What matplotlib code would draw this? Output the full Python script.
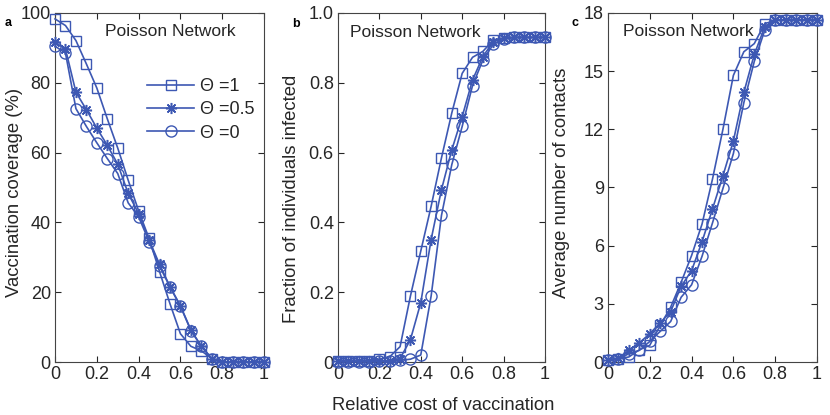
import numpy as np
import matplotlib
matplotlib.use("Agg")
import matplotlib.pyplot as plt
from matplotlib.ticker import FixedLocator, FixedFormatter

plt.rcParams['font.family'] = ['Liberation Sans', 'DejaVu Sans']

# relative cost of vaccination, 0 .. 1 in steps of 0.05
cost = [0.0, 0.05, 0.1, 0.15, 0.2, 0.25, 0.3, 0.35, 0.4, 0.45, 0.5,
        0.55, 0.6, 0.65, 0.7, 0.75, 0.8, 0.85, 0.9, 0.95, 1.0]

# panel a: vaccination coverage (%)
cov_t1 = [98.3, 96.4, 92.1, 85.4, 78.5, 69.7, 61.3, 52.1, 43.3, 35.4, 25.9,
          16.7, 8.1, 4.5, 3.2, 1.0, 0, 0, 0, 0, 0]
cov_t05 = [91.6, 89.7, 77.3, 72.3, 67.0, 62.1, 56.7, 48.3, 42.5, 35.0, 28.0,
           21.6, 16.1, 9.2, 4.5, 1.0, 0, 0, 0, 0, 0]
cov_t0 = [90.5, 88.5, 72.6, 67.5, 62.8, 58.3, 54.0, 45.6, 41.6, 34.5, 27.5,
          21.5, 16.0, 9.0, 4.5, 1.0, 0, 0, 0, 0, 0]

# panel b: fraction of individuals infected
inf_t1 = [0.003, 0.003, 0.003, 0.004, 0.008, 0.015, 0.044, 0.189, 0.318, 0.446, 0.585,
          0.714, 0.827, 0.873, 0.890, 0.922, 0.928, 0.930, 0.930, 0.930, 0.930]
inf_t05 = [0.002, 0.002, 0.002, 0.003, 0.003, 0.004, 0.010, 0.064, 0.170, 0.351, 0.494,
           0.608, 0.703, 0.808, 0.875, 0.918, 0.928, 0.930, 0.930, 0.930, 0.930]
inf_t0 = [0.001, 0.001, 0.001, 0.001, 0.002, 0.002, 0.005, 0.008, 0.020, 0.189, 0.420,
          0.566, 0.675, 0.792, 0.865, 0.910, 0.925, 0.930, 0.930, 0.930, 0.930]

# panel c: average number of contacts
con_t1 = [0.09, 0.17, 0.26, 0.63, 0.86, 1.89, 2.83, 4.11, 5.49, 7.11, 9.43,
          12.0, 14.78, 16.0, 16.42, 17.45, 17.62, 17.65, 17.65, 17.65, 17.65]
con_t05 = [0.10, 0.20, 0.60, 0.99, 1.46, 2.02, 2.60, 3.90, 4.71, 6.20, 7.89,
           9.60, 11.4, 13.9, 15.86, 17.28, 17.62, 17.65, 17.65, 17.65, 17.65]
con_t0 = [0.08, 0.15, 0.43, 0.60, 1.06, 1.58, 2.09, 3.34, 3.98, 5.45, 7.17,
          8.95, 10.75, 13.37, 15.5, 17.1, 17.62, 17.65, 17.65, 17.65, 17.65]

labels = ["\u0398 =1", "\u0398 =0.5", "\u0398 =0"]
xticks = [0, 0.2, 0.4, 0.6, 0.8, 1.0]
xticklabels = ["0", "0.2", "0.4", "0.6", "0.8", "1"]

BLUE = "#3d58b3"
TXT = "#262626"

fig = plt.figure(figsize=(8.3, 4.15), dpi=100)
ax_a = fig.add_axes([0.0663, 0.1277, 0.2518, 0.841])
ax_b = fig.add_axes([0.4072, 0.1277, 0.2494, 0.841])
ax_c = fig.add_axes([0.7325, 0.1277, 0.2518, 0.841])

styles = [
    dict(marker="s", markersize=7, markerfacecolor="none"),
    dict(marker=(8, 2, 0), markersize=8, markeredgewidth=1.1),
    dict(marker="o", markersize=8, markerfacecolor="none"),
]


def draw_panel(ax, series, ylim, yticks, yticklabels, ylabel, label_xy):
    for vals, st, lab in zip(series, styles, labels):
        ax.plot(cost, vals, color=BLUE, linewidth=1.2, markeredgecolor=BLUE,
                label=lab, clip_on=False, zorder=3, **st)
    ax.set_xlim(0, 1)
    ax.set_ylim(*ylim)
    ax.xaxis.set_major_locator(FixedLocator(xticks))
    ax.xaxis.set_major_formatter(FixedFormatter(xticklabels))
    ax.yaxis.set_major_locator(FixedLocator(yticks))
    ax.yaxis.set_major_formatter(FixedFormatter(yticklabels))
    ax.tick_params(direction="in", top=True, right=True, length=4,
                   labelsize=13, colors=TXT, pad=3)
    ax.set_ylabel(ylabel, fontsize=13.3, color=TXT)
    ax.yaxis.set_label_coords(*label_xy)
    for s in ax.spines.values():
        s.set_color("#444444")
        s.set_linewidth(0.8)


draw_panel(ax_a, [cov_t1, cov_t05, cov_t0], (0, 100), [0, 20, 40, 60, 80, 100],
           ["0", "20", "40", "60", "80", "100"], "Vaccination coverage (%)", (-0.153, 0.487))
draw_panel(ax_b, [inf_t1, inf_t05, inf_t0], (0, 1), [0, 0.2, 0.4, 0.6, 0.8, 1.0],
           ["0", "0.2", "0.4", "0.6", "0.8", "1.0"], "Fraction of individuals infected",
           (-0.185, 0.467))
draw_panel(ax_c, [con_t1, con_t05, con_t0], (0, 18), [0, 3, 6, 9, 12, 15, 18],
           ["0", "3", "6", "9", "12", "15", "18"], "Average number of contacts", (-0.182, 0.513))

ax_a.text(0.24, 0.946, "Poisson Network", transform=ax_a.transAxes, fontsize=12.5,
          color=TXT, va="center")
ax_b.text(0.058, 0.943, "Poisson Network", transform=ax_b.transAxes, fontsize=12.5,
          color=TXT, va="center")
ax_c.text(0.07, 0.946, "Poisson Network", transform=ax_c.transAxes, fontsize=12.5,
          color=TXT, va="center")

ax_a.legend(loc="upper right", bbox_to_anchor=(1.03, 0.86), frameon=False, fontsize=13,
            handlelength=2.6, labelspacing=0.35, handletextpad=0.3, labelcolor=TXT)

fig.text(0.0096, 0.945, "a", fontsize=9, fontweight="bold", ha="center", va="center")
fig.text(0.357, 0.943, "b", fontsize=9, fontweight="bold", ha="center", va="center")
fig.text(0.693, 0.945, "c", fontsize=9, fontweight="bold", ha="center", va="center")

fig.text(0.534, 0.024, "Relative cost of vaccination", fontsize=13.2, color=TXT,
         ha="center", va="center")

fig.savefig("out.png", dpi=100)
